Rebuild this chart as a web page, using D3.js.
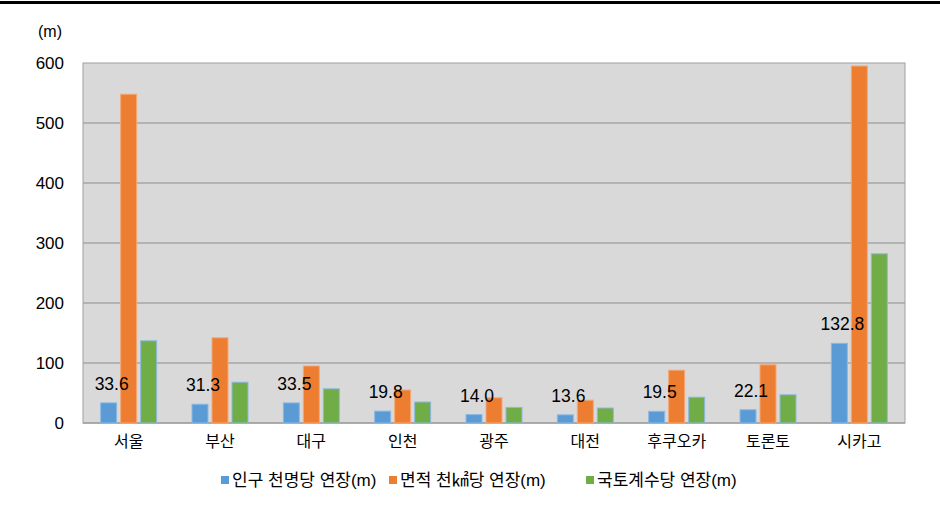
<!DOCTYPE html>
<html>
<head>
<meta charset="utf-8">
<script src="https://cdn.jsdelivr.net/npm/d3@7"></script>
<style>
  body { margin: 0; background: #fff; }
  svg text { font-family: "Liberation Sans", "Noto Sans CJK KR", sans-serif; fill: #000; }
</style>
</head>
<body>
<svg id="chart" width="940" height="508"></svg>
<script>
const cities = ['서울', '부산', '대구', '인천', '광주', '대전', '후쿠오카', '토론토', '시카고'];
const seriesNames = ['인구 천명당 연장(m)', '면적 천㎢당 연장(m)', '국토계수당 연장(m)'];
const perPopulation = [33.6, 31.3, 33.5, 19.8, 14.0, 13.6, 19.5, 22.1, 132.8];
const perArea = [548, 142, 95, 55, 42, 38, 88, 97, 595];
const perCoefficient = [137, 68, 57, 35, 26, 25, 43, 47, 282];
const yTicks = [0, 100, 200, 300, 400, 500, 600];

const fills = ['#5B9BD5', '#ED7D31', '#70AD47'];
const strokes = ['#8DB8E2', '#F4A877', '#8DB8E2'];

const svg = d3.select('#chart');
const plotLeft = 83, plotRight = 905, plotTop = 63, plotBottom = 423;

// top rule
svg.append('rect').attr('x', 0).attr('y', 1).attr('width', 940).attr('height', 3).attr('fill', '#000');

const x0 = d3.scaleBand().domain(cities).range([plotLeft, plotRight]);
const x1 = d3.scaleBand().domain([0, 1, 2]).range([0, 56]).paddingInner(0.2);
const y = d3.scaleLinear().domain([0, 600]).range([plotBottom, plotTop]);

// plot area
svg.append('rect')
  .attr('x', plotLeft).attr('y', plotTop)
  .attr('width', plotRight - plotLeft).attr('height', plotBottom - plotTop)
  .attr('fill', '#D9D9D9')
  .attr('stroke', '#A0A0A0').attr('stroke-width', 1);

svg.append('g').selectAll('line')
  .data(yTicks.filter(d => d > 0 && d < 600))
  .enter().append('line')
  .attr('x1', plotLeft).attr('x2', plotRight)
  .attr('y1', d => y(d)).attr('y2', d => y(d))
  .attr('stroke', '#A6A6A6').attr('stroke-width', 1.5);

// y axis labels
const yAxis = d3.axisLeft(y).tickValues(yTicks).tickSize(0).tickPadding(19);
const yg = svg.append('g').attr('transform', `translate(${plotLeft},0)`).call(yAxis);
yg.select('.domain').remove();
yg.selectAll('text').style('font-size', '17px');

svg.append('text').attr('x', 50).attr('y', 37).attr('text-anchor', 'middle')
  .style('font-size', '16px').text('(m)');

// baseline
svg.append('line').attr('x1', plotLeft).attr('x2', plotRight).attr('y1', plotBottom).attr('y2', plotBottom)
  .attr('stroke', '#A0A0A0').attr('stroke-width', 1.5);

const table = cities.map((c, i) => ({ city: c, values: [perPopulation[i], perArea[i], perCoefficient[i]] }));

const groups = svg.append('g').selectAll('g')
  .data(table)
  .enter().append('g')
  .attr('transform', d => `translate(${x0(d.city) + x0.bandwidth() / 2 - 28},0)`);

groups.selectAll('rect')
  .data(d => d.values.map((v, k) => ({ k, v })))
  .enter().append('rect')
  .attr('x', d => x1(d.k))
  .attr('y', d => y(d.v))
  .attr('width', x1.bandwidth())
  .attr('height', d => y(0) - y(d.v))
  .attr('fill', d => fills[d.k])
  .attr('stroke', d => strokes[d.k])
  .attr('stroke-width', 1);

groups.append('text')
  .attr('x', x1(0) + x1.bandwidth() / 2 + 3)
  .attr('y', d => y(d.values[0]) - 13)
  .attr('text-anchor', 'middle')
  .style('font-size', '17.5px')
  .text(d => d.values[0].toFixed(1));

// x labels
const xAxis = d3.axisBottom(x0).tickSize(0).tickPadding(13);
const xg = svg.append('g').attr('transform', `translate(0,${plotBottom})`).call(xAxis);
xg.select('.domain').remove();
xg.selectAll('text').style('font-size', '16px');

// legend
const legendX = [221, 389, 586];
const legend = svg.append('g').selectAll('g')
  .data(seriesNames)
  .enter().append('g')
  .attr('transform', (d, i) => `translate(${legendX[i]},480)`);
legend.append('rect')
  .attr('x', 0).attr('y', -4).attr('width', 8).attr('height', 8)
  .attr('fill', (d, i) => fills[i]);
legend.append('text')
  .attr('x', 11).attr('y', 6)
  .style('font-size', '17px')
  .text(d => d);
</script>
</body>
</html>
